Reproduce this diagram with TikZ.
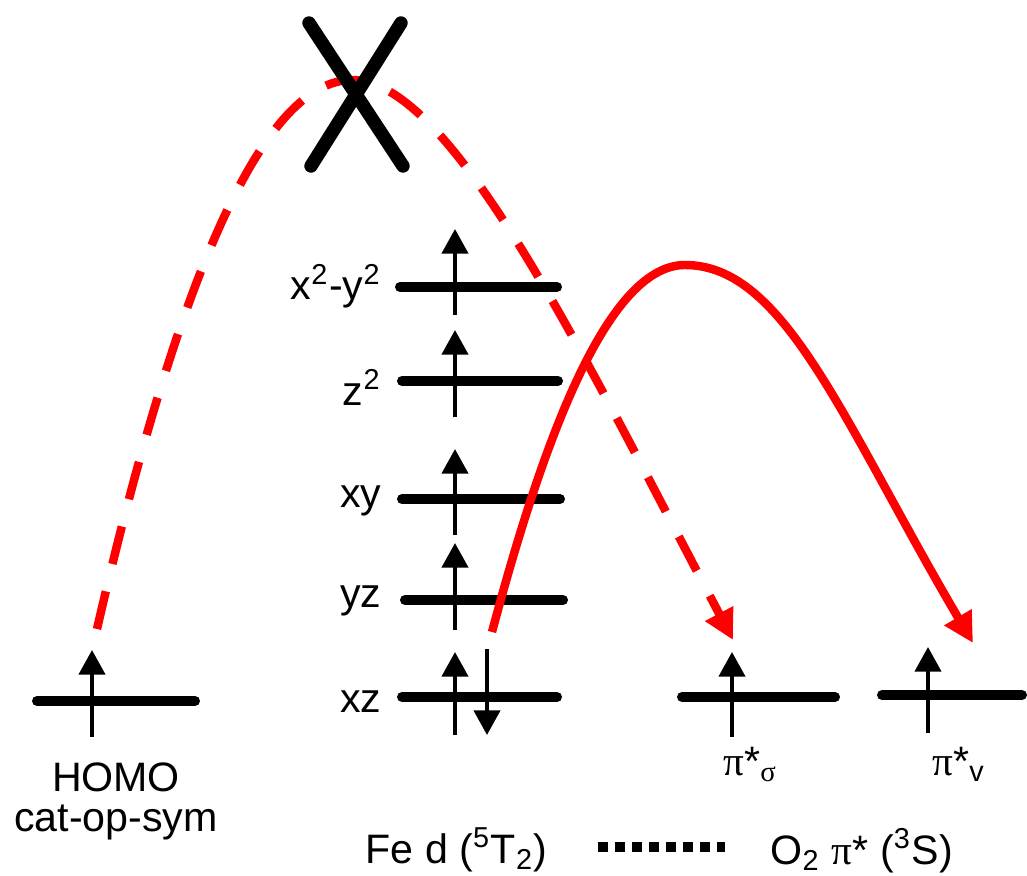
\documentclass[tikz,border=0pt]{standalone}
\usepackage{fontspec}
\setmainfont{Liberation Sans}
\newfontfamily\greekfont{Liberation Serif}
\usetikzlibrary{arrows.meta}
\tikzset{
    orbital/.style={line width=2.85pt, line cap=round},
    spin/.style={line width=1.15pt, -{Triangle[length=7pt, width=7.4pt]}},
    transfer/.style={red, line width=2.4pt, -{Triangle[length=8.5pt, width=8.5pt]}},
    orblabel/.style={font=\fontsize{11.7}{14}\selectfont, inner sep=0pt},
    crossmark/.style={line width=3.8pt, line cap=round},
    legenddots/.style={line width=2.85pt, dash pattern=on 2.85pt off 2pt}
}

\begin{document}
\begin{tikzpicture}[x=0.01cm, y=-0.01cm]
\useasboundingbox (0,0) rectangle (1027,876);

% Fe d levels
\foreach \orb/\txt/\y/\xa/\xb/\ya/\yb/\yl in {
    x2y2/{x\textsuperscript{2}-y\textsuperscript{2}}/287/400/557/315/229/300,
    z2/{z\textsuperscript{2}}/381/402/558/417/330/405,
    xy/{xy}/499/402/560/535/449/507,
    yz/{yz}/600/405/563/630/543/607,
    xz/{xz}/697/402/557/735/652/712}
{
    \draw[orbital] (\xa,\y) coordinate (\orb-w) -- (\xb,\y) coordinate (\orb-e);
    \draw[spin] (455,\ya) -- (455,\yb);
    \node[orblabel, anchor=base east] (\orb-lab) at (382,\yl) {\txt};
}
\draw[spin] (487,649) -- (487,735);

% HOMO and O2 levels
\draw[orbital] (37,701) coordinate (homo-w) -- (195,701) coordinate (homo-e);
\draw[spin] (92,737) -- (92,650);
\draw[orbital] (682,697) coordinate (sig-w) -- (835,697) coordinate (sig-e);
\draw[spin] (732,737) -- (732,652);
\draw[orbital] (882,695) coordinate (piv-w) -- (1022,695) coordinate (piv-e);
\draw[spin] (928,733) -- (928,647);

% Labels
\node[orblabel, anchor=base] (homo-lab) at (116,791) {HOMO};
\node[orblabel, anchor=base] (homo-sub) at (116,831) {cat-op-sym};
\node[orblabel, anchor=base west] (sig-lab) at (723,775)
    {{\greekfont π}*\textsubscript{\greekfont σ}};
\node[orblabel, anchor=base west] (piv-lab) at (932,775)
    {{\greekfont π}*\textsubscript{v}};
\node[orblabel, anchor=base west] (fe-lab) at (365,863)
    {Fe d (\textsuperscript{5}T\textsubscript{2})};
\node[orblabel, anchor=base west] (o2-lab) at (770,864)
    {O\textsubscript{2} {\greekfont π}* (\textsuperscript{3}S)};
\draw[legenddots] (598,847) -- (725,847);

% Electron transfer paths
\coordinate (homo-tail) at (97,629);
\coordinate (sig-tip) at (733,640);
\coordinate (xz-tail) at (492,632);
\coordinate (piv-tip) at (973,643);
\draw[transfer, dash pattern=on 11pt off 8pt] (homo-tail)
    .. controls (181,264) and (266,80) .. (352,80)
    .. controls (452,80) and (583,355) .. (sig-tip);
\draw[transfer] (xz-tail)
    .. controls (540,452) and (605,265) .. (685,265)
    .. controls (785,265) and (843,422) .. (piv-tip);

% Forbidden path
\draw[crossmark] (309,23) -- (403,166);
\draw[crossmark] (401,23) -- (311,166);

\end{tikzpicture}
\end{document}
